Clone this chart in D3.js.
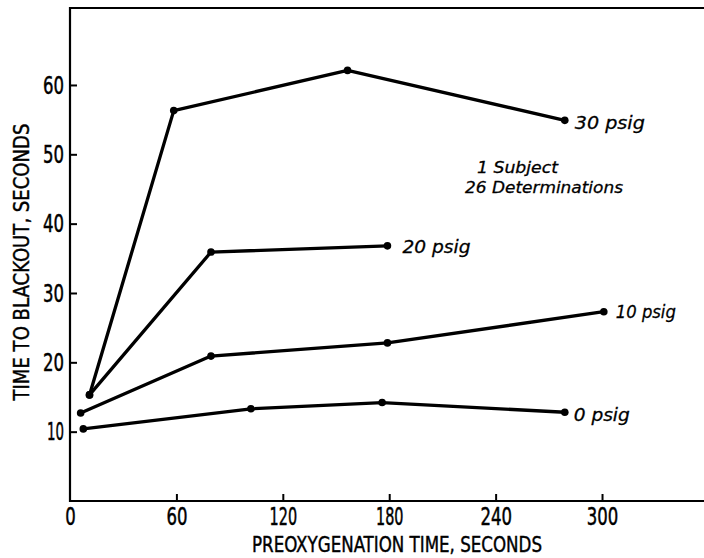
<!DOCTYPE html>
<html>
<head>
<meta charset="utf-8">
<script src="https://cdn.jsdelivr.net/npm/d3@7"></script>
<style>
  html, body { margin: 0; padding: 0; background: #fff; }
  svg { display: block; }
</style>
</head>
<body>
<svg id="chart" width="704" height="558"></svg>
<script>
// ---- data ----
const seriesNames = ["30 psig", "20 psig", "10 psig", "0 psig"];
const x30 = [11, 58.5, 156.5, 279];
const y30 = [15.3, 56.3, 62.1, 54.9];
const x20 = [11, 79.5, 179];
const y20 = [15.3, 35.9, 36.8];
const x10 = [6, 79.5, 179, 301];
const y10 = [12.7, 20.9, 22.8, 27.3];
const x0 = [7.5, 102, 176, 279];
const y0 = [10.4, 13.3, 14.2, 12.8];
const xTicks = [0, 60, 120, 180, 240, 300];
const yTicks = [10, 20, 30, 40, 50, 60];
const xTitle = "PREOXYGENATION TIME, SECONDS";
const yTitle = "TIME TO BLACKOUT, SECONDS";
const noteLines = ["1 Subject", "26 Determinations"];

// ---- layout ----
const svg = d3.select("#chart");
const plotLeft = 70, plotRight = 704, plotTop = 8, plotBottom = 501;
const x = d3.scaleLinear().domain([0, 357.5]).range([plotLeft, plotRight]);
const y = d3.scaleLinear().domain([0, 71.1]).range([plotBottom, plotTop]);

const condensed = "'Liberation Sans Narrow', 'DejaVu Sans Condensed', 'Arial Narrow', sans-serif";
const italicFont = "'DejaVu Sans', Verdana, sans-serif";

// width of a hand-lettered label: narrow "1", other digits ~10.5px
const labelWidth = s => String(s).split("").reduce((a, c) => a + (c === "1" ? 6.5 : 10.5), 0);

// frame: left, top and bottom lines (right side open)
svg.append("path")
  .attr("d", `M${plotRight},${y(71.1)}H${x(0)}V${y(0)}H${plotRight}`)
  .attr("fill", "none").attr("stroke", "#000").attr("stroke-width", 2.2);

// axes with inward ticks
const yAxis = d3.axisLeft(y).tickValues(yTicks).tickSize(-7).tickPadding(6).tickFormat(d3.format("d"));
const gy = svg.append("g").attr("transform", `translate(${plotLeft},0)`).call(yAxis);
gy.select(".domain").remove();
gy.selectAll(".tick line").attr("stroke", "#000").attr("stroke-width", 2);
gy.selectAll(".tick text").attr("font-family", condensed).attr("font-size", 25.5).attr("fill", "#000")
  .attr("stroke", "#000").attr("stroke-width", 0.5)
  .attr("textLength", d => labelWidth(d)).attr("lengthAdjust", "spacingAndGlyphs");

const xAxis = d3.axisBottom(x).tickValues(xTicks).tickSize(-7).tickPadding(6).tickFormat(d3.format("d"));
const gx = svg.append("g").attr("transform", `translate(0,${plotBottom})`).call(xAxis);
gx.select(".domain").remove();
gx.selectAll(".tick line").attr("stroke", "#000").attr("stroke-width", 2)
  .attr("display", d => d === 0 ? "none" : null);
gx.selectAll(".tick text").attr("font-family", condensed).attr("font-size", 25.5).attr("fill", "#000")
  .attr("stroke", "#000").attr("stroke-width", 0.5)
  .attr("textLength", d => labelWidth(d)).attr("lengthAdjust", "spacingAndGlyphs");

// axis titles
svg.append("text")
  .attr("x", 397).attr("y", 552)
  .attr("text-anchor", "middle")
  .attr("font-family", condensed).attr("font-size", 21)
  .attr("stroke", "#000").attr("stroke-width", 0.4)
  .attr("textLength", 290).attr("lengthAdjust", "spacingAndGlyphs")
  .text(xTitle);

svg.append("text")
  .attr("transform", "translate(28.5,262) rotate(-90)")
  .attr("text-anchor", "middle")
  .attr("font-family", condensed).attr("font-size", 21)
  .attr("stroke", "#000").attr("stroke-width", 0.4)
  .attr("textLength", 277).attr("lengthAdjust", "spacingAndGlyphs")
  .text(yTitle);

// series
const series = [
  { name: seriesNames[0], xs: x30, ys: y30 },
  { name: seriesNames[1], xs: x20, ys: y20 },
  { name: seriesNames[2], xs: x10, ys: y10 },
  { name: seriesNames[3], xs: x0, ys: y0 }
].map(s => ({ name: s.name, pts: s.xs.map((v, i) => [v, s.ys[i]]) }));

// per-label offsets from the last point (px) and widths
const labelStyle = {
  "30 psig": { dx: 10, dy: 9, w: 70 },
  "20 psig": { dx: 15, dy: 7, w: 68 },
  "10 psig": { dx: 12, dy: 6.5, w: 60 },
  "0 psig":  { dx: 9,  dy: 8.5, w: 56 }
};

const line = d3.line().x(d => x(d[0])).y(d => y(d[1]));

const g = svg.append("g");
series.forEach(s => {
  g.append("path")
    .attr("d", line(s.pts))
    .attr("fill", "none").attr("stroke", "#000")
    .attr("stroke-width", 3.3).attr("stroke-linejoin", "round").attr("stroke-linecap", "round");
  g.selectAll(null).data(s.pts).enter().append("circle")
    .attr("cx", d => x(d[0])).attr("cy", d => y(d[1])).attr("r", 3.8).attr("fill", "#000");
  const last = s.pts[s.pts.length - 1];
  const st = labelStyle[s.name];
  g.append("text")
    .attr("x", x(last[0]) + st.dx).attr("y", y(last[1]) + st.dy)
    .attr("font-family", italicFont).attr("font-style", "italic").attr("font-size", 18)
    .attr("stroke", "#000").attr("stroke-width", 0.3)
    .attr("textLength", st.w).attr("lengthAdjust", "spacingAndGlyphs")
    .text(s.name);
});

// annotation
svg.append("text")
  .attr("x", 477).attr("y", 172.5)
  .attr("font-family", italicFont).attr("font-style", "italic").attr("font-size", 16)
  .attr("stroke", "#000").attr("stroke-width", 0.3)
  .attr("textLength", 81).attr("lengthAdjust", "spacingAndGlyphs")
  .text(noteLines[0]);
svg.append("text")
  .attr("x", 465).attr("y", 192.5)
  .attr("font-family", italicFont).attr("font-style", "italic").attr("font-size", 16)
  .attr("stroke", "#000").attr("stroke-width", 0.3)
  .attr("textLength", 158).attr("lengthAdjust", "spacingAndGlyphs")
  .text(noteLines[1]);
</script>
</body>
</html>
